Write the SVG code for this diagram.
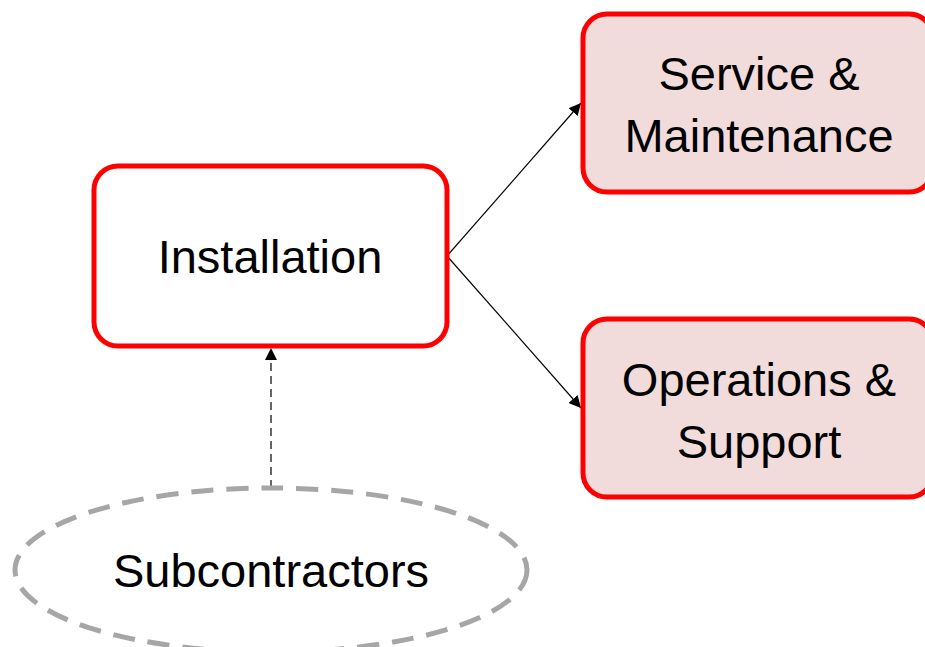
<svg xmlns="http://www.w3.org/2000/svg" width="925" height="647" viewBox="0 0 925 647">
  <style>
    .box { stroke: #FF0000; stroke-width: 5; }
    .plain { fill: #FFFFFF; }
    .tinted { fill: #F2DCDB; }
    .label { font-family: "Liberation Sans", Arial, sans-serif; font-size: 47px; fill: #000000; text-anchor: middle; }
    .edge { stroke: #000000; stroke-width: 1.2; fill: none; }
    .dashed { stroke-dasharray: 8 5; }
    .oval { fill: #FFFFFF; stroke: #A6A6A6; stroke-width: 5; stroke-dasharray: 22 13; }
  </style>
  <defs>
    <marker id="arrow" viewBox="0 0 10 10" refX="10" refY="5" markerWidth="12" markerHeight="12" markerUnits="userSpaceOnUse" orient="auto">
      <path d="M0,0 L10,5 L0,10 Z" fill="#000000"/>
    </marker>
  </defs>

  <rect width="925" height="647" fill="#FFFFFF"/>

  <g id="connectors">
    <line class="edge" x1="447" y1="256" x2="581" y2="103" marker-end="url(#arrow)"/>
    <line class="edge" x1="447" y1="256" x2="581" y2="408" marker-end="url(#arrow)"/>
    <line class="edge dashed" x1="271" y1="488" x2="271" y2="348" marker-end="url(#arrow)"/>
  </g>

  <g id="installation">
    <rect class="box plain" x="94" y="166" width="353" height="180" rx="24"/>
    <text class="label" x="270" y="273">Installation</text>
  </g>

  <g id="service-maintenance">
    <rect class="box tinted" x="583" y="14" width="350" height="178" rx="24"/>
    <text class="label" x="759" y="90">Service &amp;</text>
    <text class="label" x="759" y="152">Maintenance</text>
  </g>

  <g id="operations-support">
    <rect class="box tinted" x="583" y="319" width="350" height="178" rx="24"/>
    <text class="label" x="759" y="396">Operations &amp;</text>
    <text class="label" x="759" y="458">Support</text>
  </g>

  <g id="subcontractors">
    <ellipse class="oval" cx="271" cy="570" rx="256" ry="82"/>
    <text class="label" x="271" y="587">Subcontractors</text>
  </g>
</svg>
